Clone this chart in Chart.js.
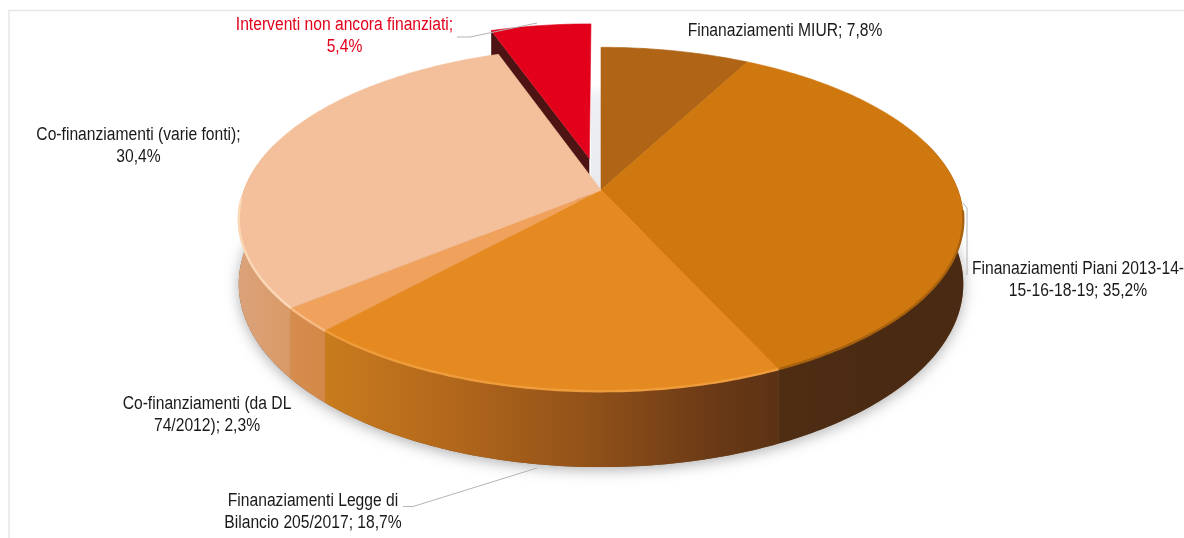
<!DOCTYPE html>
<html><head><meta charset="utf-8">
<style>html,body{margin:0;padding:0;background:#fff}canvas{display:block}</style>
<script src="https://cdn.jsdelivr.net/npm/chart.js@4/dist/chart.umd.min.js"></script>
</head><body>
<canvas id="c" width="1184" height="538"></canvas>
<script>
// ---- data ----
const categories = ['Finanaziamenti MIUR','Finanaziamenti Piani 2013-14-15-16-18-19','Finanaziamenti Legge di Bilancio 205/2017','Co-finanziamenti (da DL 74/2012)','Co-finanziamenti (varie fonti)','Interventi non ancora finanziati'];
const values = [7.8,35.2,18.7,2.3,30.4,5.4];
const explode = [0,0,0,0,0,0.2];
const topColors = ['#b06416','#cf780f','#e58a20','#f0a25c','#f4c09b','#e2001a'];
const rimColors = ['#b06416','#a8610f','#ee9c3c','#f7bb84','#fbd8b6','#e2001a'];
const sideStops = [
  [[0,'#5a3212'],[1,'#5a3212']],
  [[0,'#4e2d13'],[0.6,'#4a2a12'],[1,'#4a2a12']],
  [[0,'#c97b1d'],[0.3,'#b0661b'],[0.6,'#8f5019'],[0.85,'#6b3a16'],[1,'#5c3214']],
  [[0,'#d68d4d'],[1,'#d38848']],
  [[0,'#dba27a'],[1,'#d99a66']],
  [[0,'#4e1414'],[1,'#4e1414']]
];
const labelLines = [
  ['Finanaziamenti MIUR; 7,8%'],
  ['Finanaziamenti Piani 2013-14-','15-16-18-19; 35,2%'],
  ['Finanaziamenti Legge di','Bilancio 205/2017; 18,7%'],
  ['Co-finanziamenti (da DL','74/2012); 2,3%'],
  ['Co-finanziamenti (varie fonti);','30,4%'],
  ['Interventi non ancora finanziati;','5,4%']
];
const labelAnchors = [[785,31],[1078,269],[313,501],[207,404],[138.5,135],[344.5,25]];
const labelColors = ['#1a1a1a','#1a1a1a','#1a1a1a','#1a1a1a','#1a1a1a','#e2001a'];
const leaders = [
  [[963,203],[967,208],[967,275]],
  [[403,506.5],[413,506.5],[537,468]],
  [[457,37],[470,37],[537,23]]
];
// ---- projection of the pie plane ----
const CX=601, CY=190, RX=357, RY=167, K=0.17, DEPTH=63;
const FONT_X=0.869;
function proj(u,v){const w=1-K*v;return {x:CX+RX*u/w,y:CY+RY*v/w,d:DEPTH/w};}
function arcPts(a0,a1,ou,ov){
  const n=Math.max(6,Math.ceil((a1-a0)/0.015)),p=[];
  for(let i=0;i<=n;i++){const a=a0+(a1-a0)*i/n;p.push(proj(Math.cos(a)+ou,Math.sin(a)+ov));}
  return p;
}
function offs(i,arc){
  const m=(arc.startAngle+arc.endAngle)/2;
  return [explode[i]*Math.cos(m),explode[i]*Math.sin(m)];
}
function drawSide(ctx,i,arc){
  const [ou,ov]=offs(i,arc);
  const a0=Math.max(arc.startAngle,-0.3),a1=Math.min(arc.endAngle,Math.PI+0.3);
  if(a1<=a0)return;
  const p=arcPts(a0,a1,ou,ov);
  const xs=p.map(q=>q.x),x0=Math.min(...xs),x1=Math.max(...xs);
  const g=ctx.createLinearGradient(x0,0,x1,0);
  sideStops[i].forEach(s=>g.addColorStop(s[0],s[1]));
  ctx.fillStyle=g;ctx.beginPath();
  p.forEach((q,j)=>j?ctx.lineTo(q.x,q.y):ctx.moveTo(q.x,q.y));
  for(let j=p.length-1;j>=0;j--)ctx.lineTo(p[j].x,p[j].y+p[j].d);
  ctx.closePath();ctx.fill();
}
function drawTop(ctx,i,arc){
  const [ou,ov]=offs(i,arc);
  const c=proj(ou,ov),p=arcPts(arc.startAngle,arc.endAngle,ou,ov);
  ctx.fillStyle=topColors[i];ctx.beginPath();ctx.moveTo(c.x,c.y);
  p.forEach(q=>ctx.lineTo(q.x,q.y));ctx.closePath();ctx.fill();
  ctx.strokeStyle=topColors[i];ctx.lineWidth=0.6;ctx.stroke();
}
function drawRim(ctx,i,arc){
  const a0=Math.max(arc.startAngle,0.12),a1=Math.min(arc.endAngle,Math.PI-0.05);
  if(a1<=a0)return;
  const p=arcPts(a0,a1,0,0);
  ctx.strokeStyle=rimColors[i];ctx.lineWidth=2.4;ctx.beginPath();
  p.forEach((q,j)=>j?ctx.lineTo(q.x,q.y):ctx.moveTo(q.x,q.y));ctx.stroke();
}
function drawExplodedWall(ctx,i,arc){
  const [ou,ov]=offs(i,arc);
  const c=proj(ou,ov),e=proj(Math.cos(arc.startAngle)+ou,Math.sin(arc.startAngle)+ov);
  ctx.fillStyle=sideStops[i][0][1];ctx.beginPath();
  ctx.moveTo(c.x,c.y);ctx.lineTo(e.x,e.y);ctx.lineTo(e.x,e.y+e.d);ctx.lineTo(c.x,c.y+c.d);ctx.closePath();ctx.fill();
}
const piePlugin={
  id:'pie3d',
  beforeDatasetDraw(chart){
    const ctx=chart.ctx,arcs=chart.getDatasetMeta(0).data;
    ctx.save();
    // frame
    ctx.strokeStyle='#e6e6e6';ctx.lineWidth=1.6;ctx.beginPath();
    ctx.moveTo(9,538);ctx.lineTo(9,10.5);ctx.lineTo(1184,10.5);ctx.stroke();
    // soft gap shadow
    const gg=ctx.createLinearGradient(0,85,0,190);
    gg.addColorStop(0,'rgba(232,234,240,0)');gg.addColorStop(0.15,'#eeeff3');gg.addColorStop(1,'#e9eaee');
    ctx.fillStyle=gg;ctx.fillRect(591,85,10,105);
    // ground shadow
    ctx.save();ctx.shadowColor='rgba(0,0,0,0.3)';ctx.shadowBlur=14;ctx.shadowOffsetY=3;
    ctx.fillStyle='#7a5a3a';ctx.beginPath();
    arcPts(-0.1,Math.PI+0.1,0,0).forEach((q,j)=>j?ctx.lineTo(q.x,q.y+q.d):ctx.moveTo(q.x,q.y+q.d));
    ctx.closePath();ctx.fill();ctx.restore();
    // exploded slices go behind the others
    arcs.forEach((a,i)=>{if(explode[i]){drawExplodedWall(ctx,i,a);drawTop(ctx,i,a);}});
    arcs.forEach((a,i)=>{if(!explode[i])drawSide(ctx,i,a);});
    arcs.forEach((a,i)=>{if(!explode[i])drawTop(ctx,i,a);});
    arcs.forEach((a,i)=>{if(!explode[i])drawRim(ctx,i,a);});
    ctx.restore();
    return false;
  },
  afterDraw(chart){
    const ctx=chart.ctx;
    ctx.save();
    ctx.strokeStyle='#b4b4b4';ctx.lineWidth=1;
    leaders.forEach(l=>{ctx.beginPath();l.forEach((q,j)=>j?ctx.lineTo(q[0],q[1]):ctx.moveTo(q[0],q[1]));ctx.stroke();});
    ctx.font='18px "Liberation Sans"';ctx.textAlign='center';ctx.textBaseline='middle';
    labelLines.forEach((lines,i)=>{
      ctx.fillStyle=labelColors[i];
      lines.forEach((t,j)=>{
        ctx.save();
        ctx.translate(labelAnchors[i][0],labelAnchors[i][1]+j*22);
        ctx.scale(FONT_X,1);
        ctx.fillText(t,0,0);
        ctx.restore();
      });
    });
    ctx.restore();
  }
};
new Chart(document.getElementById('c'),{
  type:'pie',
  data:{labels:categories,datasets:[{data:values,backgroundColor:topColors,borderWidth:0}]},
  options:{responsive:false,animation:false,
    plugins:{legend:{display:false},tooltip:{enabled:false}}},
  plugins:[piePlugin]
});
</script>
</body></html>
